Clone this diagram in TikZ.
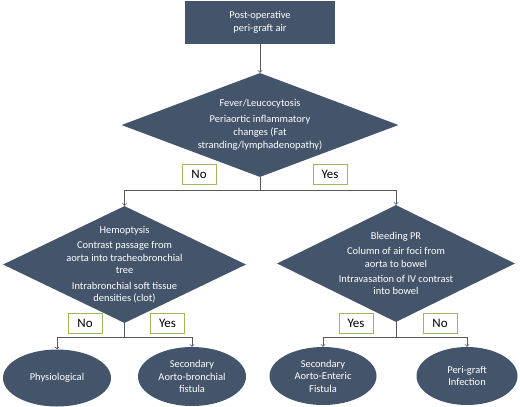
\documentclass[tikz,border=0pt]{standalone}
\usepackage{fontspec}
\setmainfont{Carlito}
\usetikzlibrary{shapes.geometric}
\definecolor{slate}{HTML}{44546A}
\definecolor{leaf}{HTML}{9BBB59}
\definecolor{linegray}{HTML}{595959}
\begin{document}
\begin{tikzpicture}[x=1bp,y=-1bp,
  box/.style={draw=none,fill=slate,text=white,inner sep=0pt},
  test/.style={box,diamond},
  result/.style={box,ellipse,align=center,font=\fontsize{10.5}{12.5}\selectfont,minimum width=108bp,minimum height=57bp},
  note/.style={text=white,align=center,font=\fontsize{10.5}{12.5}\selectfont,inner sep=0pt},
  answer/.style={draw=leaf,thick,fill=white,minimum width=34bp,minimum height=20bp,inner sep=0pt,font=\fontsize{13}{15}\selectfont},
  link/.style={linegray,thick}]
\useasboundingbox (0,0) rectangle (520,406);
% start box
\node[box,minimum width=150bp,minimum height=43bp,align=center,font=\fontsize{10.5}{13}\selectfont] (start) at (260,22.5) {Post-operative\\peri-graft air};
% the three tests
\node[test,minimum width=277bp,minimum height=104bp] (fever) at (260,125) {};
\node[note,font=\fontsize{10.5}{13}\selectfont] (fevertext) at (fever) {Fever/Leucocytosis\\[3pt]Periaortic inflammatory\\changes (Fat\\stranding/lymphadenopathy)};
\node[test,minimum width=243bp,minimum height=117bp] (hemo) at (124.5,264.5) {};
\node[note] (hemotext) at (hemo) {Hemoptysis\\[3pt]Contrast passage from\\aorta into tracheobronchial\\tree\\[3pt]Intrabronchial soft tissue\\densities (clot)};
\node[test,minimum width=238bp,minimum height=117bp] (bleed) at (396,263.5) {};
\node[note] (bleedtext) at (bleed) {Bleeding PR\\[3pt]Column of air foci from\\aorta to bowel\\[3pt]Intravasation of IV contrast\\into bowel};
% outcomes
\node[result] (phys) at (57,378) {Physiological};
\node[result,minimum height=59bp] (bronch) at (192,376.5) {Secondary\\Aorto-bronchial\\fistula};
\node[result,minimum width=107bp,minimum height=58bp] (enteric) at (323,376) {Secondary\\Aorto-Enteric\\Fistula};
\node[result,minimum width=101bp,minimum height=58bp] (infect) at (467,376) {Peri-graft\\Infection};
% yes / no labels
\foreach \name/\x/\y/\word in {no1/199/174/No, yes1/330/174/Yes, no2/85/323/No, yes2/167.5/323/Yes, yes3/356/323/Yes, no3/440/323/No}{
  \node[answer] (\name) at (\x,\y) {\word};
}
% connectors
\coordinate (fork1) at ([yshift=-13bp]fever.south);
\coordinate (fork2) at ([yshift=-14bp]hemo.south);
\coordinate (fork3) at ([yshift=-15bp]bleed.south);
\draw [link, arrows = ->] (start) -- (fever);
\draw [link] (fever.south) -- (fork1);
\draw [link, arrows = ->] (fork1) -| (hemo.north);
\draw [link, arrows = ->] (fork1) -| (bleed.north);
\draw [link] (hemo.south) -- (fork2);
\draw [link, arrows = ->] (fork2) -| (phys.north);
\draw [link, arrows = ->] (fork2) -| (bronch.north);
\draw [link] (bleed.south) -- (fork3);
\draw [link, arrows = ->] (fork3) -| (enteric.north);
\draw [link, arrows = ->] (fork3) -| (infect.north);
\end{tikzpicture}
\end{document}
